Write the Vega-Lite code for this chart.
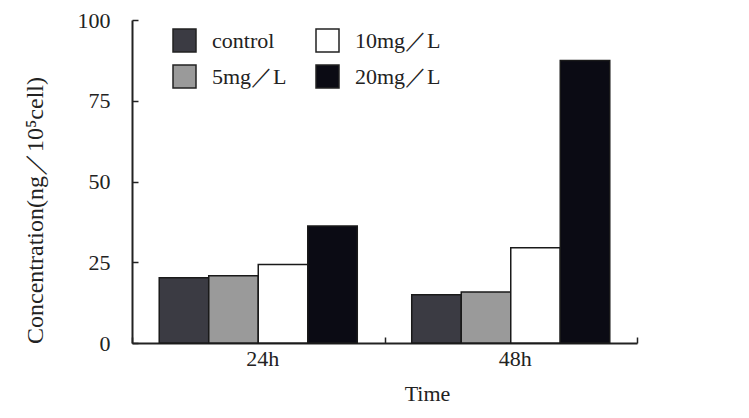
{
  "$schema": "https://vega.github.io/schema/vega-lite/v6.json",
  "width": 505,
  "height": 323,
  "autosize": "none",
  "padding": {"left": 132, "top": 20, "right": 112, "bottom": 75},
  "background": "white",
  "config": {
    "view": {"stroke": null},
    "font": "Liberation Serif",
    "axis": {"grid": false, "domainColor": "#222", "tickColor": "#222", "labelColor": "#222", "titleColor": "#222", "labelFont": "Liberation Serif", "titleFont": "Liberation Serif", "titleFontWeight": "normal", "domainWidth": 2, "tickWidth": 1.5}
  },
  "data": {
    "values": [
      {"time": "24h", "group": "control", "value": 20.2},
      {"time": "24h", "group": "5mg／L", "value": 20.8},
      {"time": "24h", "group": "10mg／L", "value": 24.3},
      {"time": "24h", "group": "20mg／L", "value": 36.2},
      {"time": "48h", "group": "control", "value": 14.9},
      {"time": "48h", "group": "5mg／L", "value": 15.8},
      {"time": "48h", "group": "10mg／L", "value": 29.5},
      {"time": "48h", "group": "20mg／L", "value": 87.5}
    ]
  },
  "mark": {"type": "bar", "stroke": "#1a1a1a", "strokeWidth": 1.5},
  "encoding": {
    "x": {
      "field": "time", "type": "nominal",
      "scale": {"paddingInner": 0, "paddingOuter": 0},
      "axis": {"title": "Time", "labelAngle": 0, "labelFontSize": 22, "titleFontSize": 22, "tickBand": "extent", "tickSize": -6, "labelPadding": 21, "titleX": 295, "titleY": 50, "titleBaseline": "middle", "titleAnchor": null, "labelBaseline": "middle", "labelOffset": 4}
    },
    "xOffset": {
      "field": "group", "type": "nominal",
      "sort": ["control", "5mg／L", "10mg／L", "20mg／L"],
      "scale": {"paddingInner": 0, "paddingOuter": 0.55}
    },
    "y": {
      "field": "value", "type": "quantitative",
      "scale": {"domain": [0, 100]},
      "axis": {"title": "Concentration(ng／10⁵cell)", "values": [0, 25, 50, 75, 100], "labelFontSize": 22, "titleFontSize": 24, "tickSize": -6, "labelPadding": 28, "titlePadding": 30, "titleY": 190}
    },
    "color": {
      "field": "group", "type": "nominal",
      "scale": {"domain": ["control", "10mg／L", "5mg／L", "20mg／L"], "range": ["#3b3b43", "#ffffff", "#9a9a9a", "#0b0b14"]},
      "legend": {
        "title": null, "orient": "none", "legendX": 40, "legendY": 8, "columns": 2, "direction": "horizontal",
        "symbolType": "square", "symbolSize": 529, "symbolStrokeColor": "#222", "symbolStrokeWidth": 1.5,
        "labelFontSize": 22, "labelFont": "Liberation Serif", "labelColor": "#222", "labelOffset": 15,
        "columnPadding": 26, "rowPadding": 7, "padding": 0, "labelLimit": 200
      }
    }
  }
}
